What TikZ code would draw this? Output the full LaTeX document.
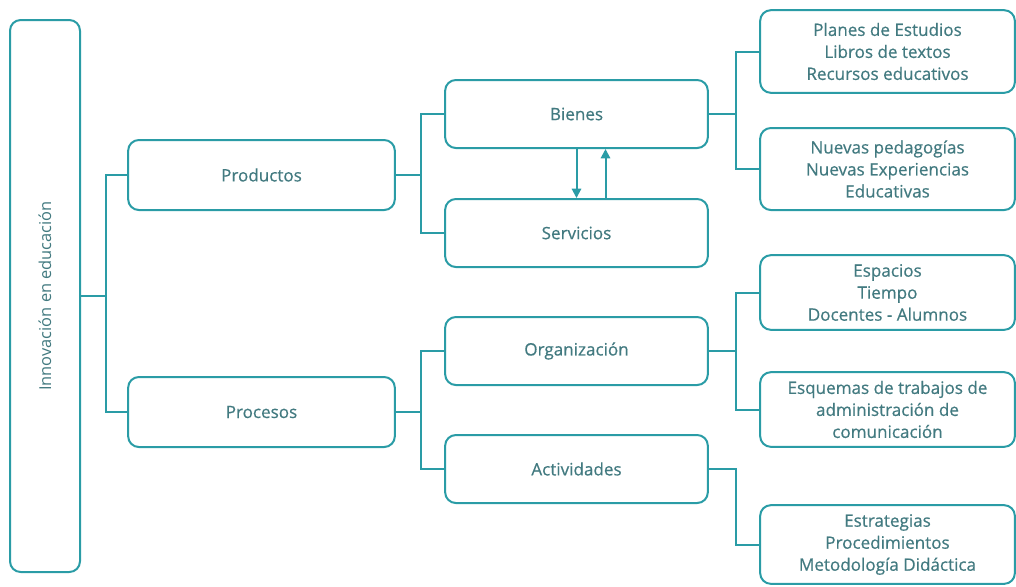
\documentclass[tikz,border=0pt]{standalone}
\usepackage{fontspec}
\setmainfont{Open Sans}
\newfontfamily\rotulo{Open Sans}[FakeBold=0.5]
\usepackage{graphicx}
\usepackage{tikz}
\usetikzlibrary{arrows.meta}
\definecolor{turquesa}{HTML}{2A9CA6}
\definecolor{texto}{HTML}{427A80}

\begin{document}
\begin{tikzpicture}[x=0.75pt,y=-0.75pt,
  caja/.style={draw=turquesa,line width=1.5pt,rounded corners=8pt,fill=white,
    text=texto,align=center,font=\rotulo\fontsize{12.8}{16.5}\selectfont,inner sep=0pt},
  nivelA/.style={caja,minimum width=200pt,minimum height=52.5pt},
  nivelB/.style={caja,minimum width=197pt,minimum height=51pt},
  nivelC/.style={caja,minimum width=191pt},
  linea/.style={draw=turquesa,line width=1.5pt},
  flecha/.style={linea,-{Triangle[length=7pt,width=7pt]}}]
\useasboundingbox (0,0) rectangle (1016,586);

% raiz
\node [caja,minimum width=52.5pt,minimum height=414pt,
  font=\fontsize{12.3}{15}\selectfont] (innov) at (45,296)
  {\rotatebox{90}{Innovación en educación}};

% primer nivel
\node [nivelA] (productos) at (261.5,175) {Productos};
\node [nivelA] (procesos) at (261.5,412) {Procesos};

% segundo nivel
\node [nivelB] (bienes) at (576.5,114) {Bienes};
\node [nivelB] (servicios) at (576.5,233) {Servicios};
\node [nivelB] (organiza) at (576.5,351) {Organización};
\node [nivelB] (activ) at (576.5,469) {Actividades};

% tercer nivel
\node [nivelC,minimum height=62pt] (planes) at (887.5,51.5) {Planes de Estudios\\Libros de textos\\Recursos educativos};
\node [nivelC,minimum height=61.5pt] (nuevas) at (887.5,169) {Nuevas pedagogías\\Nuevas Experiencias\\Educativas};
\node [nivelC,minimum height=56pt] (espacios) at (887.5,292.5) {Espacios\\Tiempo\\Docentes - Alumnos};
\node [nivelC,minimum height=56pt] (esquemas) at (887.5,409.5) {Esquemas de trabajos de\\administración de\\comunicación};
\node [nivelC,minimum height=59pt] (estrateg) at (887.5,544.5) {Estrategias\\Procedimientos\\Metodología Didáctica};

% conectores
\draw [linea] (innov.east) -- ++(25,0) coordinate (j1);
\draw [linea] (productos.west) -| (j1) |- (procesos.west);
\draw [linea] (productos.east) -- ++(25,0) coordinate (j2);
\draw [linea] (bienes.west) -| (j2) |- (servicios.west);
\draw [linea] (procesos.east) -- ++(25,0) coordinate (j3);
\draw [linea] (organiza.west) -| (j3) |- (activ.west);
\draw [linea] (bienes.east) -- ++(27,0) coordinate (j4);
\draw [linea] (planes.west) -| (j4) |- (nuevas.west);
\draw [linea] (organiza.east) -- ++(27,0) coordinate (j5);
\draw [linea] (espacios.west) -| (j5) |- (esquemas.west);
\draw [linea] (activ.east) -- ++(27,0) |- (estrateg.west);

\draw [flecha] (bienes.south) -- (servicios.north);
\draw [flecha] ([xshift=21.75pt]servicios.north) -- ([xshift=21.75pt]bienes.south);
\end{tikzpicture}
\end{document}
